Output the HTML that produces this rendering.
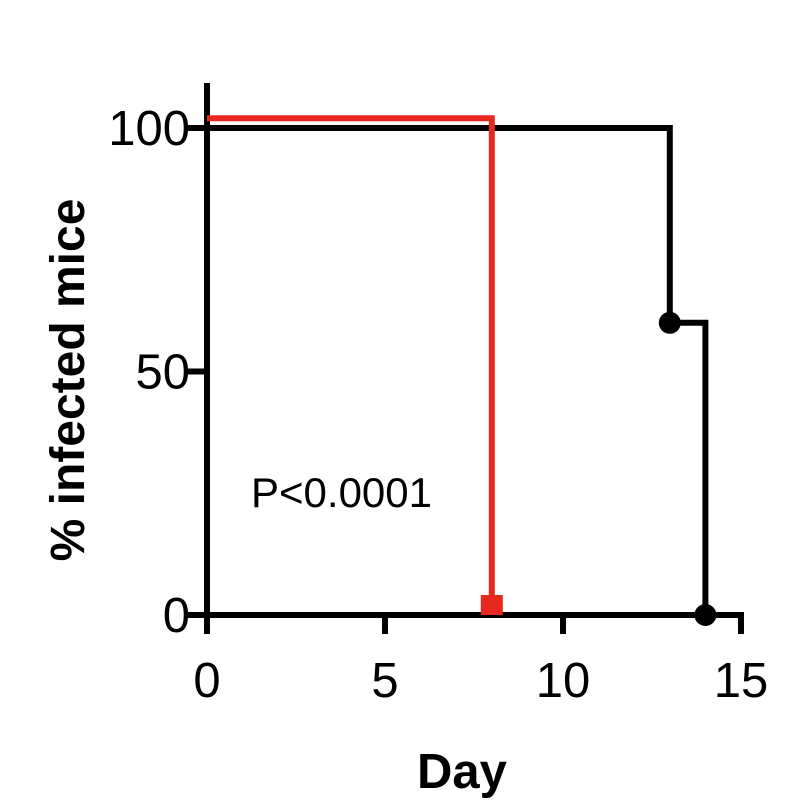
<!DOCTYPE html>
<html><head><meta charset="utf-8"><style>
html,body{margin:0;padding:0;background:#fff;}
svg{display:block;font-family:"Liberation Sans",Arial,sans-serif;}
</style></head><body>
<svg id="chart" width="788" height="803" viewBox="0 0 788 803"></svg>
<script>
const xTicks=[0,5,10,15];
const yTicks=[0,50,100];
const redX=[0,8,8];
const redY=[102,102,0];
const blackX=[0,13,13,14,14];
const blackY=[100,100,60,60,0];
const blackMarkX=[13,14];
const blackMarkY=[60,0];
const redMarkX=[8];
const redMarkY=[0];
const pLabel="P<0.0001";

const NS="http://www.w3.org/2000/svg";
const svg=document.getElementById('chart');
const sx=v=>207+v*(741-207)/15;
const sy=v=>615-v*(615-128)/100;
function mk(tag,attrs,parent){const e=document.createElementNS(NS,tag);for(const k in attrs)e.setAttribute(k,attrs[k]);(parent||svg).appendChild(e);return e;}

const yAxis=mk('line',{x1:sx(0),y1:83,x2:sx(0),y2:634,stroke:'#000','stroke-width':6});


const xAxis=mk('line',{x1:sx(0)-2,y1:sy(0),x2:sx(15)+3,y2:sy(0),stroke:'#000','stroke-width':6});



xTicks.forEach(t=>{
  const l=mk('line',{x1:sx(t),y1:sy(0),x2:sx(t),y2:634,stroke:'#000','stroke-width':6});
  
  
  const tx=mk('text',{x:sx(t),y:697,'font-size':49,'text-anchor':'middle',fill:'#000'});
  tx.textContent=t;
  
  
});
yTicks.forEach(t=>{
  const l=mk('line',{x1:188,y1:sy(t),x2:sx(0),y2:sy(t),stroke:'#000','stroke-width':6});
  
  
  const tx=mk('text',{x:190,y:sy(t)+17,'font-size':49,'text-anchor':'end',fill:'#000'});
  tx.textContent=t;
  
  
});

function pts(xs,ys){return xs.map((x,i)=>sx(x)+','+sy(ys[i])).join(' ');}
const bl=mk('polyline',{points:pts(blackX,blackY),fill:'none',stroke:'#000','stroke-width':6,'stroke-linejoin':'miter'});


const rl=mk('polyline',{points:pts(redX,redY),fill:'none',stroke:'#e8281e','stroke-width':6,'stroke-linejoin':'miter'});


blackMarkX.forEach((x,i)=>{
  const c=mk('circle',{cx:sx(x),cy:sy(blackMarkY[i]),r:11,fill:'#000'});
  
  
});
redMarkX.forEach((x,i)=>{
  const r=mk('rect',{x:sx(x)-11,y:sy(redMarkY[i])-20,width:22,height:20,fill:'#e8281e'});
  
  
});

const p=mk('text',{x:251,y:507,'font-size':42,fill:'#000'});
p.textContent=pLabel;


const xt=mk('text',{x:462,y:788,'font-size':49,'font-weight':'bold','text-anchor':'middle',fill:'#000'});
xt.textContent='Day';


const yt=mk('text',{x:0,y:0,'font-size':48,'font-weight':'bold','text-anchor':'middle',fill:'#000',transform:'translate(84,380) rotate(-90)'});
yt.textContent='% infected mice';


</script>
</body></html>
